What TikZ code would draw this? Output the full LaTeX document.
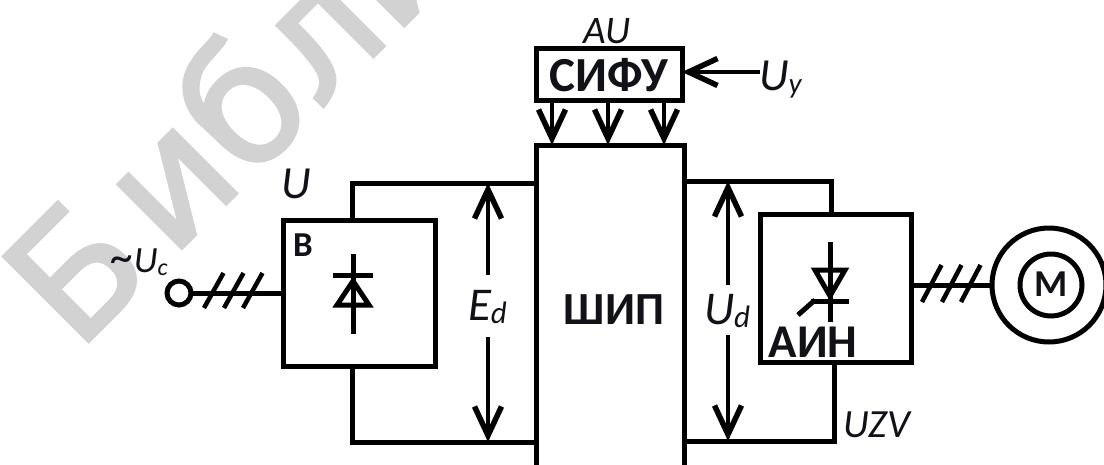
\documentclass[tikz,border=0pt]{standalone}
\usepackage{fontspec}
\setmainfont{Carlito}
\newfontfamily\wmfont[FakeBold=2]{DejaVu Sans}
\usetikzlibrary{arrows.meta}
\definecolor{wmgray}{HTML}{D2D2D2}
\definecolor{ink}{HTML}{111118}
\newcommand{\fsz}[1]{\fontsize{#1}{#1}\selectfont}
\newcommand{\lowsub}[2]{\raisebox{-3pt}{\fsz{#2}#1}}
\tikzset{
  wire/.style={line width=5pt,draw=black,line cap=butt,line join=miter},
  thin wire/.style={line width=5pt,draw=black},
  barbarrow/.style={line width=4.5pt,draw=black,-{Straight Barb[length=29pt,width=27pt,line width=5.5pt]}},
  blockbox/.style={rectangle,draw=black,line width=5pt,fill=none,inner sep=0pt,outer sep=0pt},
  lab/.style={inner sep=0pt,outer sep=0pt,text=ink},
  ital/.style={lab,font=\itshape},
  slash/.style={line width=4.5pt,draw=black},
  wm/.style={inner sep=0pt,text=wmgray,font=\wmfont\fsz{165},rotate=45,anchor=base west}
}
\begin{document}
\begin{tikzpicture}[x=1pt,y=-1pt]
\useasboundingbox (0,0) rectangle (1104,464);
\clip (0,0) rectangle (1104,464);
\fill[white] (0,0) rectangle (1104,464);
% watermark
\node[wm] (water) at (77,353) {Б\kern20pt{}ибли};
% blocks
\node[blockbox,minimum width=146pt,minimum height=52pt] (sifu) at (609,74) {};
\node[lab,font=\bfseries\fsz{49}] (sifut) at (609,75) {СИФУ};
\node[blockbox,minimum width=148pt,minimum height=400pt] (ship) at (610,345) {};
\node[lab,font=\bfseries\fsz{46}] (shipt) at (614,310) {ШИП};
\node[blockbox,minimum width=151.5pt,minimum height=146pt] (vb) at (359.5,293) {};
\node[lab,font=\bfseries\fsz{35}] (vt) at (303,245) {В};
\node[blockbox,minimum width=151pt,minimum height=148pt] (ain) at (835.5,288) {};
\node[lab,font=\bfseries\fsz{47}] (aint) at (813,342) {АИН};
% top/bottom wires left
\coordinate (lt) at (352,183);
\coordinate (lb) at (352,442);
\draw[wire] (lt |- vb.north) -- (lt) -- (lt -| ship.west);
\draw[wire] (lb |- vb.south) -- (lb) -- (lb -| ship.west);
% top/bottom wires right
\coordinate (rt) at (831,181);
\coordinate (rb) at (834,441);
\draw[wire] (rt |- ain.north) -- (rt) -- (rt -| ship.east);
\draw[wire] (rb |- ain.south) -- (rb) -- (rb -| ship.east);
% Ed and Ud
\node[ital,font=\itshape\fsz{47},anchor=base west] (ed) at (468,320) {E\lowsub{d}{31}};
\coordinate (eda) at (488,275);
\coordinate (edb) at (488,337);
\draw[barbarrow] (eda) -- (eda |- lt);
\draw[barbarrow] (edb) -- (edb |- lb);
\node[ital,font=\itshape\fsz{47},anchor=base west] (ud) at (704,324) {U\lowsub{d}{31}};
\coordinate (uda) at (728,285);
\coordinate (udb) at (728,335);
\draw[barbarrow] (uda) -- (uda |- rt);
\draw[barbarrow] (udb) -- (udb |- rb);
% control arrows
\foreach \n/\x in {a/552,b/608,c/664}{
  \coordinate (s\n) at (\x,100);
  \draw[barbarrow] (s\n) -- (s\n |- ship.north);
}
\node[ital,font=\itshape\fsz{46},anchor=base west] (uy) at (759,90) {U\lowsub{y}{29}};
\coordinate (uyw) at (760,72);
\draw[barbarrow] (uyw) -- (uyw -| sifu.east);
\node[ital,font=\itshape\fsz{39}] (au) at (607,31) {AU};
\node[ital,font=\itshape\fsz{46},anchor=base west] (ulab) at (281,198) {U};
% input
\node[circle,draw=black,line width=5pt,minimum size=24pt,inner sep=0pt,outer sep=0pt] (term) at (179,293) {};
\node[ital,font=\itshape\fsz{37},anchor=base west] (uc) at (111,272) {{\fsz{46}\textasciitilde}U\lowsub{c}{24}};
\draw[wire] (term.east) -- (term.east -| vb.west);
\foreach \x in {204,224,243}{
  \draw[slash] (\x,308) -- (\x+19.5,273);
}
% output
\node[circle,draw=black,line width=5pt,minimum size=114pt,inner sep=0pt,outer sep=0pt] (mo) at (1049,285) {};
\node[circle,draw=black,line width=5pt,minimum size=62pt,inner sep=0pt,outer sep=0pt] (mi) at (1051,285) {};
\node[lab,font=\bfseries\fsz{38}] (mt) at (1051,284) {М};
\draw[wire] (mo.west -| ain.east) -- (mo.west);
\foreach \x in {922,942,961}{
  \draw[slash] (\x,302) -- (\x+19.5,265);
}
\node[ital,font=\itshape\fsz{40},anchor=base west] (uzv) at (843,437) {UZV};
% diode
\draw[thin wire] (353,254) -- (353,334);
\draw[thin wire] (333,275) -- (373,275);
\draw[thin wire,line join=miter] (353,281) -- (337,305) -- (369,305) -- cycle;
% thyristor
\draw[thin wire] (830,242) -- (830,322);
\draw[thin wire,line join=miter] (815,270) -- (845,270) -- (830,296) -- cycle;
\draw[thin wire] (811,301) -- (849,301);
\draw[thin wire] (815,300) -- (798,315);
\end{tikzpicture}
\end{document}
